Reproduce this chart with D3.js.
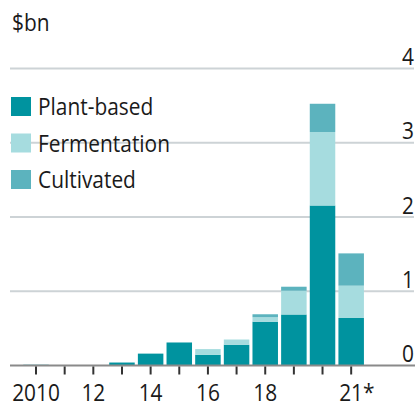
<!DOCTYPE html>
<html><head><meta charset="utf-8">
<script src="https://cdn.jsdelivr.net/npm/d3@7"></script>
<style>
html,body{margin:0;padding:0;background:#fff;}
svg{display:block;}
text{font-family:"Open Sans",sans-serif;fill:#1a1a1a;}
</style></head>
<body>
<svg id="c" width="418" height="405"></svg>
<script>
const years = [2010,2011,2012,2013,2014,2015,2016,2017,2018,2019,2020,2021];
const plantBased  = [0.01,0,0,0.04,0.16,0.31,0.145,0.28,0.59,0.687,2.155,0.64];
const fermentation= [0,0,0,0,0,0,0.076,0.07,0.06,0.32,0.99,0.435];
const cultivated  = [0,0,0,0,0,0,0,0,0.04,0.054,0.38,0.435];
const seriesNames = ["Plant-based","Fermentation","Cultivated"];
const yTicks = [0,1,2,3,4];
const xTickLabels = {2010:"2010",2012:"12",2014:"14",2016:"16",2018:"18",2021:"21*"};
const colors = ["#00939f","#a6dcdf","#5cb3be"];

const FS = "24px", SX = 0.87;
const svg = d3.select("#c");
const x = d3.scaleBand().domain(years).range([21.7,365.5]).paddingInner(0.11).paddingOuter(0.055);
const y = d3.scaleLinear().domain([0,4]).range([365.5,68.5]);

// gridlines
svg.append("g").selectAll("line").data(yTicks.filter(d=>d>0)).join("line")
  .attr("x1",10).attr("x2",414).attr("y1",d=>y(d)).attr("y2",d=>y(d))
  .attr("stroke","#cdd3d6").attr("stroke-width",2);

// y labels
svg.append("g").selectAll("g").data(yTicks).join("g")
  .attr("transform",d=>`translate(414,${y(d)-3.5}) scale(${SX},1)`)
  .append("text").attr("text-anchor","end").style("font-size",FS).text(d=>d);

// stacked bars
const table = years.map((yr,i)=>({year:yr,p:plantBased[i],f:fermentation[i],c:cultivated[i]}));
const stack = d3.stack().keys(["p","f","c"])(table);
svg.append("g").selectAll("g").data(stack).join("g").attr("fill",(d,i)=>colors[i])
  .selectAll("rect").data(d=>d).join("rect")
  .attr("x",d=>x(d.data.year)).attr("width",x.bandwidth())
  .attr("y",d=>y(d[1])).attr("height",d=>Math.max(0,y(d[0])-y(d[1])));

// baseline
svg.append("line").attr("x1",10).attr("x2",415).attr("y1",y(0)).attr("y2",y(0))
  .attr("stroke","#8a8a8a").attr("stroke-width",2);

// x axis ticks
const xa = svg.append("g").attr("transform",`translate(0,${y(0)+1})`)
  .call(d3.axisBottom(x).tickSize(8).tickFormat(d=>xTickLabels[d]||""));
xa.select(".domain").remove();
xa.selectAll(".tick line").attr("stroke","#333").attr("stroke-width",2);
xa.selectAll(".tick text").attr("y",35).attr("dy",0)
  .attr("transform",`scale(${SX},1)`)
  .style("font-size",FS).style("font-family","'Open Sans',sans-serif").attr("fill","#1a1a1a");
xa.selectAll(".tick text").filter(d=>d===2021).attr("text-anchor","start").attr("x",-13.8);

// unit label
svg.append("g").attr("transform",`translate(12,31) scale(${SX},1)`)
  .append("text").style("font-size",FS).text("$bn");

// legend
const lg = svg.append("g").selectAll("g").data(seriesNames).join("g")
  .attr("transform",(d,i)=>`translate(11,${97+i*36.5})`);
lg.append("rect").attr("width",20).attr("height",19).attr("fill",(d,i)=>colors[i]);
lg.append("g").attr("transform",`translate(27,18) scale(${SX},1)`)
  .append("text").style("font-size",FS).text(d=>d);
</script>
</body></html>
